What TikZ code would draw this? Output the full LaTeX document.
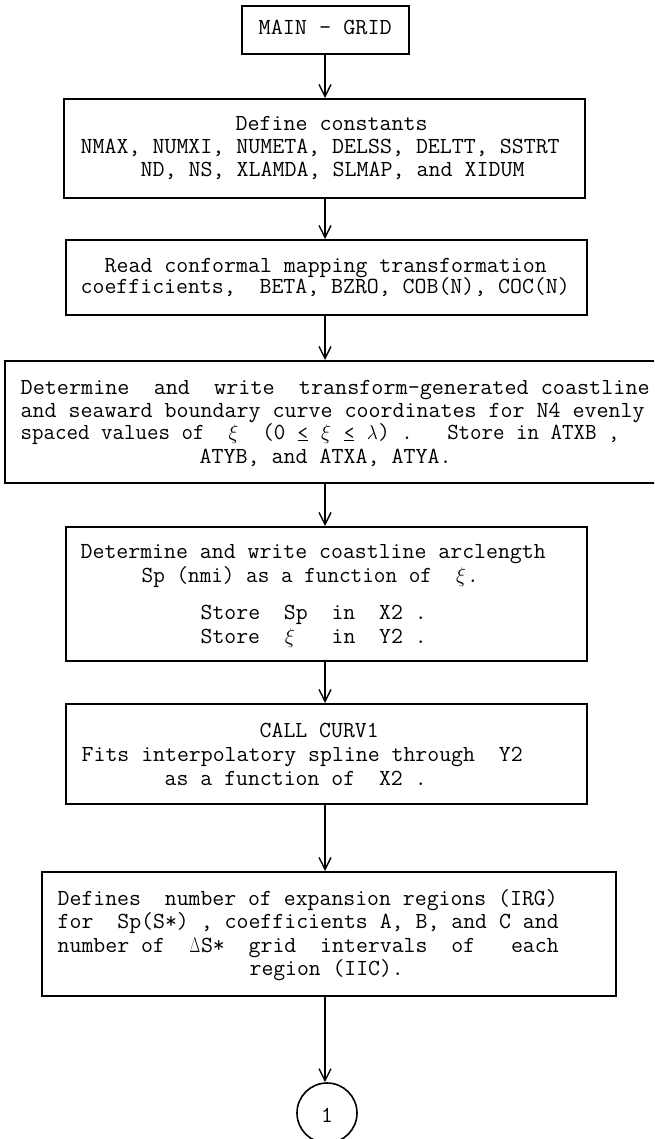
\documentclass[tikz,border=0pt]{standalone}
\usepackage{fontspec}
\usepackage{graphicx}
\setmonofont{Latin Modern Mono}
\usetikzlibrary{arrows.meta}
\newcommand\tx{\ttfamily\fontsize{23}{25}\selectfont}
\newcommand\gcell[2]{\makebox[0.525em]{\scalebox{#1}{$#2$}}}
\newcommand\gx{\gcell{0.85}{\xi}}
\newcommand\gl{\gcell{0.8}{\lambda}}
\newcommand\gD{\makebox[0.525em]{\scalebox{0.55}[0.85]{$\Delta$}}}
\newcommand\ule{\makebox[0.525em]{\underline{\scalebox{0.9}{<}}}}
\newcommand\fl[2]{\resizebox{#1pt}{\height}{#2}}
\tikzset{
  box/.style={draw, line width=1.6pt, rectangle, inner sep=0pt, anchor=north west},
  txt/.style={anchor=base west, inner sep=0pt, font=\tx},
  conn/.style={line width=1.4pt, -{Straight Barb[length=12pt,width=12pt,line width=1.4pt]}},
}
\begin{document}
\begin{tikzpicture}[x=1pt,y=-1pt]
\clip (0,0) rectangle (654,1139);
\fill[white] (0,0) rectangle (654,1139);
\coordinate (ax) at (325,0);
% boxes
\node[box, minimum width=167pt, minimum height=48pt] (b1) at (241,5) {};
\node[box, minimum width=521pt, minimum height=99pt] (b2) at (63,98) {};
\node[box, minimum width=521pt, minimum height=75pt] (b3) at (65,239) {};
\node[box, minimum width=660pt, minimum height=122pt] (b4) at (4,360) {};
\node[box, minimum width=521pt, minimum height=134pt] (b5) at (65,526) {};
\node[box, minimum width=521pt, minimum height=100pt] (b6) at (65,703) {};
\node[box, minimum width=574pt, minimum height=124pt] (b7) at (41,871) {};
\node[draw, line width=1.6pt, circle, minimum size=60pt, inner sep=0pt] (c1) at (327,1113) {};
% texts
\node[txt] (t1) at (258.5,35) {\fl{133}{MAIN - GRID}};
\node[txt] (t2a) at (235.5,131) {\fl{192}{Define constants}};
\node[txt] (t2b) at (80.5,154) {\fl{479}{NMAX, NUMXI, NUMETA, DELSS, DELTT, SSTRT}};
\node[txt] (t2c) at (140.5,177) {\fl{384}{ND, NS, XLAMDA, SLMAP, and XIDUM}};
\node[txt] (t3a) at (104.5,273) {\fl{442}{Read conformal mapping transformation}};
\node[txt] (t3b) at (80.5,294) {\fl{489}{coefficients,~~BETA, BZRO, COB(N), COC(N)}};
\node[txt] (t4a) at (20.5,394) {\fl{629}{Determine~~and~~write~~transform-generated coastline}};
\node[txt] (t4b) at (20.5,417) {\fl{624}{and seaward boundary curve coordinates for N4 evenly}};
\node[txt] (t4c) at (20.5,439) {\fl{599}{spaced values of~~\gx~~(0~\ule~\gx~\ule~\gl)~.~~~Store in ATXB ,}};
\node[txt] (t4d) at (199.5,463) {\fl{252}{ATYB, and ATXA, ATYA.}};
\node[txt] (t5a) at (80.5,558) {\fl{465}{Determine and write coastline arclength}};
\node[txt] (t5b) at (141.5,582) {\fl{337}{Sp (nmi) as a function of~~\gx.}};
\node[txt] (t5c) at (200.5,619) {\fl{226}{Store~~Sp~~in~~X2 .}};
\node[txt] (t5d) at (200.5,643) {\fl{226}{Store~~\gx~~~in~~Y2 .}};
\node[txt] (t6a) at (259.5,737) {\fl{119}{CALL CURV1}};
\node[txt] (t6b) at (81.5,761) {\fl{441}{Fits interpolatory spline through~~Y2}};
\node[txt] (t6c) at (164.5,785) {\fl{262}{as a function of~~X2 .}};
\node[txt] (t7a) at (57.5,905) {\fl{500}{Defines~~number of expansion regions (IRG)}};
\node[txt] (t7b) at (57.5,928) {\fl{501}{for~~Sp(S*) , coefficients A, B, and C and}};
\node[txt] (t7c) at (57.5,952) {\fl{501}{number of~~\gD S*~~grid~~intervals~~of~~~each}};
\node[txt] (t7d) at (249.5,975) {\fl{154}{region (IIC).}};
\node[txt, anchor=center] (tc) at (327,1115) {1};
% connectors
\draw[conn] (b1.south -| ax) -- (b2.north -| ax);
\draw[conn] (b2.south -| ax) -- (b3.north -| ax);
\draw[conn] (b3.south -| ax) -- (b4.north -| ax);
\draw[conn] (b4.south -| ax) -- (b5.north -| ax);
\draw[conn] (b5.south -| ax) -- (b6.north -| ax);
\draw[conn] (b6.south -| ax) -- (b7.north -| ax);
\draw[conn] (b7.south -| ax) -- (c1.north -| ax);
\end{tikzpicture}
\end{document}
